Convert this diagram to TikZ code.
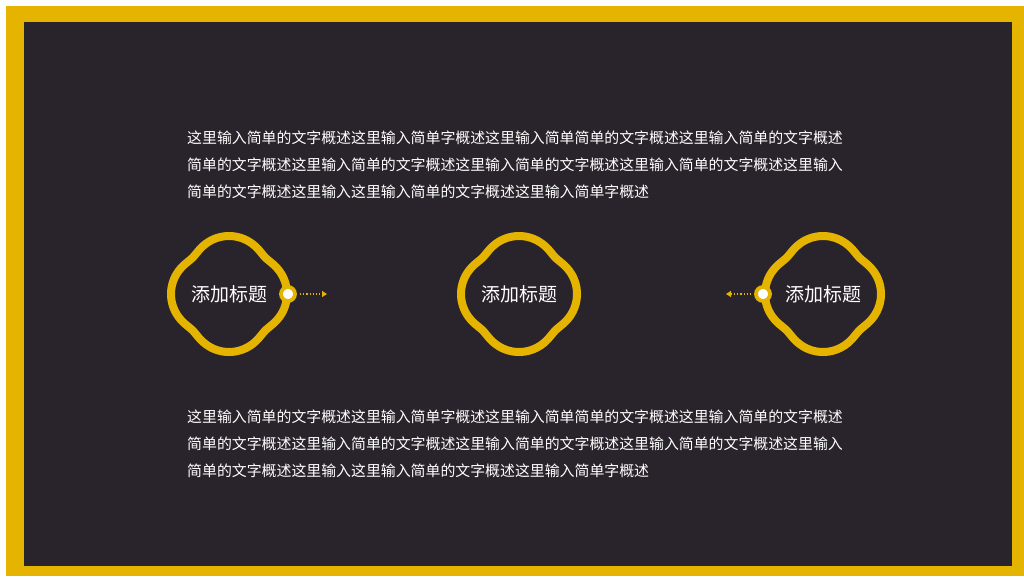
\documentclass[tikz,border=0pt]{standalone}
\usepackage{fontspec}
\usepackage{tikz}
\usetikzlibrary{positioning,calc,arrows.meta}
\newfontfamily\cjk{Noto Sans CJK SC}
\definecolor{goldy}{RGB}{229,180,0}
\definecolor{darkbg}{RGB}{41,35,43}
\tikzset{
    petal/.style={draw=goldy, line width=8pt, line join=round},
    title/.style={text=white, font=\cjk\fontsize{19}{19}\selectfont, inner sep=0pt},
    para/.style={text=white, font=\cjk\fontsize{14.9}{27}\selectfont, align=left, anchor=west, inner sep=0pt},
    pin/.style={circle, fill=white, draw=goldy, line width=3.8pt, minimum size=14pt, inner sep=0pt},
    pointer/.style={goldy, dotted, line width=1.2pt, -{Triangle[length=5pt,width=6pt]}}
}
\begin{document}
\begin{tikzpicture}[x=1pt,y=-1pt,
    declare function={lobe(\a)=19.4*cos(\a)+sqrt(38.6*38.6-(19.4*sin(\a))^2);
        bloom(\a)=50+2.4*ln(exp((lobe(\a)-50)/2.4)+exp((lobe(\a-90)-50)/2.4)
            +exp((lobe(\a-180)-50)/2.4)+exp((lobe(\a-270)-50)/2.4));}]
    % page and frame
    \useasboundingbox (0,0) rectangle (1024,576);
    \fill[white] (0,0) rectangle (1024,576);
    \fill[goldy] (6,6) rectangle (1024,576);
    \fill[darkbg] (24,22) rectangle (1012,566);

    % text blocks
    \node[para] (toptext) at (187,165) {这里输入简单的文字概述这里输入简单字概述这里输入简单简单的文字概述这里输入简单的文字概述\\
    简单的文字概述这里输入简单的文字概述这里输入简单的文字概述这里输入简单的文字概述这里输入\\
    简单的文字概述这里输入这里输入简单的文字概述这里输入简单字概述};
    \node[para] (bottomtext) at (187,444) {这里输入简单的文字概述这里输入简单字概述这里输入简单简单的文字概述这里输入简单的文字概述\\
    简单的文字概述这里输入简单的文字概述这里输入简单的文字概述这里输入简单的文字概述这里输入\\
    简单的文字概述这里输入这里输入简单的文字概述这里输入简单字概述};

    % flower outlines
    \foreach \cx/\nm in {229/left, 519/mid, 823/right}{
        \coordinate (\nm) at (\cx,294);
        \draw[petal, shift={(\cx,294)}] plot[smooth cycle, domain=0:357, samples=120]
            (\x:{bloom(\x)});
    }

    % titles
    \node[title] (lefttitle) at (229,294) {添加标题};
    \node[title] (midtitle) at (519,294) {添加标题};
    \node[title] (righttitle) at (823,294) {添加标题};

    % pins and pointers
    \node[pin] (leftpin) at (288,294) {};
    \node[pin] (rightpin) at (763,294) {};
    \coordinate (leftend) at (327,294);
    \coordinate (rightend) at (726,294);
    \draw[pointer] (leftpin.east) ++(3,0) -- (leftend);
    \draw[pointer] (rightpin.west) ++(-3,0) -- (rightend);
\end{tikzpicture}
\end{document}
